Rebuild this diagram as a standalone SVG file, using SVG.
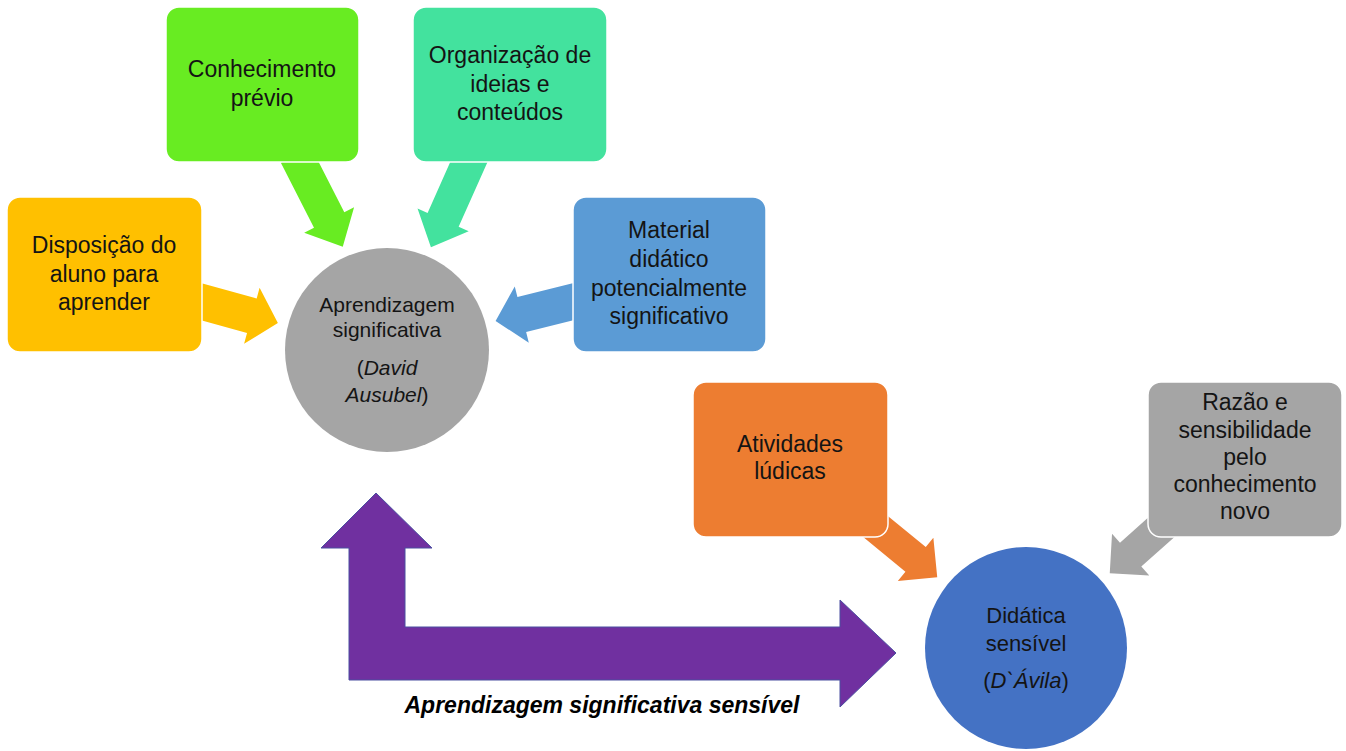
<svg xmlns="http://www.w3.org/2000/svg" width="1346" height="751" viewBox="0 0 1346 751">
<style>
.t{font-family:"Liberation Sans",Arial,sans-serif;font-size:23px;fill:#141414;text-anchor:middle}
.c{font-size:21px}
.c2{font-size:22px}
.box{stroke:#ffffff;stroke-width:1.5}
.lbl{font-family:"Liberation Sans",Arial,sans-serif;font-size:23px;font-weight:bold;font-style:italic;fill:#000;text-anchor:middle}
</style>
<rect width="1346" height="751" fill="#ffffff"/>
<g id="connectors">
  <polygon transform="translate(195,300) rotate(15.5)" points="0,-18 59,-18 59,-29 86,0 59,29 59,18 0,18" fill="#FFC000"/>
  <polygon transform="translate(296,155) rotate(63)" points="0,-17 73,-17 73,-28 103,0 73,28 73,17 0,17" fill="#68EC22"/>
  <polygon transform="translate(472,155) rotate(114)" points="0,-17 71,-17 71,-28 101,0 71,28 71,17 0,17" fill="#43E29E"/>
  <polygon transform="translate(580,300) rotate(166)" points="0,-18 60,-18 60,-29 87,0 60,29 60,18 0,18" fill="#5B9BD5"/>
  <polygon transform="translate(870,522) rotate(39.4)" points="0,-16 59,-16 59,-28 87,0 59,28 59,16 0,16" fill="#ED7D31"/>
  <polygon transform="translate(1165,524) rotate(138.3)" points="0,-16 46,-16 46,-28 74,0 46,28 46,16 0,16" fill="#A5A5A5"/>
  <polygon id="purple-arrow" points="376,493 432,548 405,548 405,627 840,627 840,600 896,653 840,707 840,680 349,680 349,548 321,548" fill="#7030A0" stroke="#4B4FA0" stroke-width="1"/>
  <text class="lbl" x="602" y="713">Aprendizagem significativa sensível</text>
</g>
<g id="n-disposicao">
  <rect class="box" x="7" y="197" width="195" height="155" rx="13" fill="#FFC000"/>
  <text class="t" x="104" y="253">Disposição do</text>
  <text class="t" x="104" y="282">aluno para</text>
  <text class="t" x="104" y="310">aprender</text>
</g>
<g id="n-conhecimento">
  <rect class="box" x="166" y="7" width="193" height="155" rx="13" fill="#68EC22"/>
  <text class="t" x="262" y="77">Conhecimento</text>
  <text class="t" x="262" y="106">prévio</text>
</g>
<g id="n-organizacao">
  <rect class="box" x="413" y="7" width="194" height="155" rx="13" fill="#43E29E"/>
  <text class="t" x="510" y="63">Organização de</text>
  <text class="t" x="510" y="92">ideias e</text>
  <text class="t" x="510" y="120">conteúdos</text>
</g>
<g id="n-material">
  <rect class="box" x="573" y="197" width="193" height="155" rx="13" fill="#5B9BD5"/>
  <text class="t" x="669" y="238">Material</text>
  <text class="t" x="669" y="267">didático</text>
  <text class="t" x="669" y="296">potencialmente</text>
  <text class="t" x="669" y="324">significativo</text>
</g>
<g id="n-aprendizagem">
  <circle cx="387" cy="350" r="102" fill="#A5A5A5"/>
  <text class="t c" x="387" y="312">Aprendizagem</text>
  <text class="t c" x="387" y="337">significativa</text>
  <text class="t c" x="387" y="375">(<tspan font-style="italic">David</tspan></text>
  <text class="t c" x="387" y="402"><tspan font-style="italic">Ausubel</tspan>)</text>
</g>
<g id="n-atividades">
  <rect class="box" x="693" y="382" width="195" height="155" rx="13" fill="#ED7D31"/>
  <text class="t" x="790" y="452">Atividades</text>
  <text class="t" x="790" y="479">lúdicas</text>
</g>
<g id="n-razao">
  <rect class="box" x="1148" y="382" width="194" height="155" rx="13" fill="#A5A5A5"/>
  <text class="t" x="1245" y="410">Razão e</text>
  <text class="t" x="1245" y="438">sensibilidade</text>
  <text class="t" x="1245" y="465">pelo</text>
  <text class="t" x="1245" y="492">conhecimento</text>
  <text class="t" x="1245" y="519">novo</text>
</g>
<g id="n-didatica">
  <circle cx="1026" cy="648" r="101" fill="#4472C4"/>
  <text class="t c2" x="1026" y="623">Didática</text>
  <text class="t c2" x="1026" y="651">sensível</text>
  <text class="t c2" x="1026" y="688">(<tspan font-style="italic">D`Ávila</tspan>)</text>
</g>
</svg>
